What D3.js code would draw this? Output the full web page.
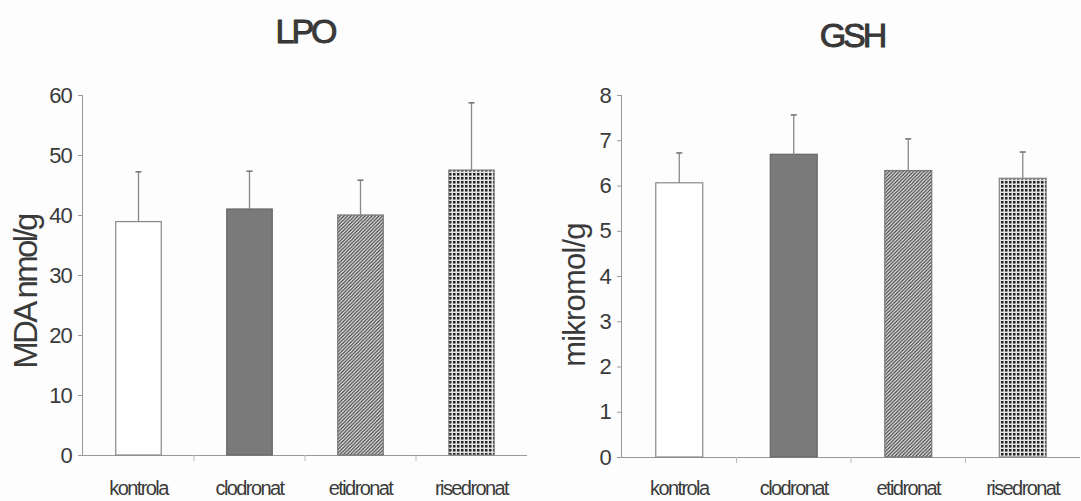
<!DOCTYPE html>
<html><head><meta charset="utf-8">
<script src="https://cdn.jsdelivr.net/npm/d3@7"></script>
<style>
body{margin:0;background:#fdfdfd;}
text{font-family:"Liberation Sans",Arial,sans-serif;fill:#3a3a3a;}
</style></head>
<body><svg id="c" width="1081" height="501"></svg>
<script>
const categories = ["kontrola","clodronat","etidronat","risedronat"];
const lpoValues = [38.9, 41.0, 40.0, 47.5];
const lpoErrors = [8.3, 6.3, 5.8, 11.2];
const lpoTicks = [0,10,20,30,40,50,60];
const gshValues = [6.06, 6.69, 6.33, 6.16];
const gshErrors = [0.66, 0.87, 0.70, 0.58];
const gshTicks = [0,1,2,3,4,5,6,7,8];

const svg = d3.select("#c");
svg.append("rect").attr("width",1081).attr("height",501).attr("fill","#fdfdfd");
const defs = svg.append("defs");
const hatch = defs.append("pattern").attr("id","hatch").attr("patternUnits","userSpaceOnUse")
  .attr("width",3.5).attr("height",3.5);
hatch.append("rect").attr("width",3.5).attr("height",3.5).attr("fill","#f0f0f0");
hatch.append("path").attr("d","M-1,1 l2,-2 M0,3.5 l3.5,-3.5 M2.5,4.5 l2,-2").attr("stroke","#444").attr("stroke-width",1.3);
const dots = defs.append("pattern").attr("id","dots").attr("patternUnits","userSpaceOnUse")
  .attr("width",4).attr("height",4);
dots.append("rect").attr("width",4).attr("height",4).attr("fill","#e4e4e4");
dots.append("rect").attr("x",1).attr("y",1).attr("width",2.5).attr("height",2.5).attr("fill","#222");

const fills = ["#ffffff","#7a7a7a","url(#hatch)","url(#dots)"];
const strokes = ["#888","#666","#777","#888"];

function panel(o){
  const g = svg.append("g");
  const x = d3.scaleBand().domain(categories).range([o.x0,o.x1]).paddingInner(0.59).paddingOuter(0.295);
  const xb = d3.scaleBand().domain(categories).range([o.x0,o.x1]);
  const y = d3.scaleLinear().domain([0,o.max]).range([o.y0,o.y1]);
  // y axis
  const ya = g.append("g").attr("transform",`translate(${o.x0},0)`)
    .call(d3.axisLeft(y).tickValues(o.ticks).tickSize(5).tickPadding(6).tickFormat(d3.format("d")));
  ya.select(".domain").attr("stroke","#999").attr("d",`M-0.5,${o.y0}V${o.y1}`);
  ya.selectAll(".tick line").attr("stroke","#999");
  ya.selectAll("text").attr("font-size",22).attr("fill","#3a3a3a").style("letter-spacing","-0.8px");
  // x axis
  const xa = g.append("g").attr("transform",`translate(0,${o.y0})`);
  xa.append("line").attr("x1",o.x0-5).attr("x2",o.x1).attr("y1",0.5).attr("y2",0.5).attr("stroke","#999");
  xa.selectAll(".bt").data(categories.slice(1)).join("line")
    .attr("x1",d=>xb(d)).attr("x2",d=>xb(d)).attr("y1",0).attr("y2",6).attr("stroke","#bbb");
  xa.selectAll(".lbl").data(categories).join("text")
    .attr("x",d=>xb(d)+xb.bandwidth()/2).attr("y",o.lblY).attr("text-anchor","middle")
    .attr("font-size",20).style("letter-spacing","-1.6px").text(d=>d);
  // bars
  g.selectAll(".bar").data(categories).join("rect")
    .attr("x",d=>x(d)).attr("width",x.bandwidth())
    .attr("y",(d,i)=>y(o.values[i])).attr("height",(d,i)=>o.y0-y(o.values[i]))
    .attr("fill",(d,i)=>fills[i]).attr("stroke",(d,i)=>strokes[i]).attr("stroke-width",1.2);
  // error bars
  g.selectAll(".err").data(categories).join("line")
    .attr("x1",d=>x(d)+x.bandwidth()/2).attr("x2",d=>x(d)+x.bandwidth()/2)
    .attr("y1",(d,i)=>y(o.values[i])).attr("y2",(d,i)=>y(o.values[i]+o.errors[i]))
    .attr("stroke","#888").attr("stroke-width",1.3);
  g.selectAll(".cap").data(categories).join("line")
    .attr("x1",d=>x(d)+x.bandwidth()/2-3).attr("x2",d=>x(d)+x.bandwidth()/2+3)
    .attr("y1",(d,i)=>y(o.values[i]+o.errors[i])).attr("y2",(d,i)=>y(o.values[i]+o.errors[i]))
    .attr("stroke","#777").attr("stroke-width",1.6);
  // title
  g.append("text").attr("x",o.tx).attr("y",o.ty).attr("text-anchor","middle")
    .attr("font-size",34).style("letter-spacing","-3px").attr("fill","#333")
    .attr("stroke","#333").attr("stroke-width",0.9).text(o.title);
  // y label
  g.append("text").attr("transform",`translate(${o.lx},${o.ly}) rotate(-90)`).attr("text-anchor","middle")
    .attr("font-size",o.lfs).style("letter-spacing",o.lls+"px").attr("fill","#3a3a3a").text(o.label);
}

panel({x0:83,x1:527,y0:455,y1:95,max:60,ticks:lpoTicks,values:lpoValues,errors:lpoErrors,lblY:40,
  title:"LPO",tx:305,ty:43,label:"MDA nmol/g",lx:37,ly:292,lfs:33,lls:-2.6});
panel({x0:622,x1:1080,y0:457,y1:95,max:8,ticks:gshTicks,values:gshValues,errors:gshErrors,lblY:38,
  title:"GSH",tx:852,ty:47,label:"mikromol/g",lx:585,ly:295,lfs:31,lls:-0.8});
</script></body></html>
